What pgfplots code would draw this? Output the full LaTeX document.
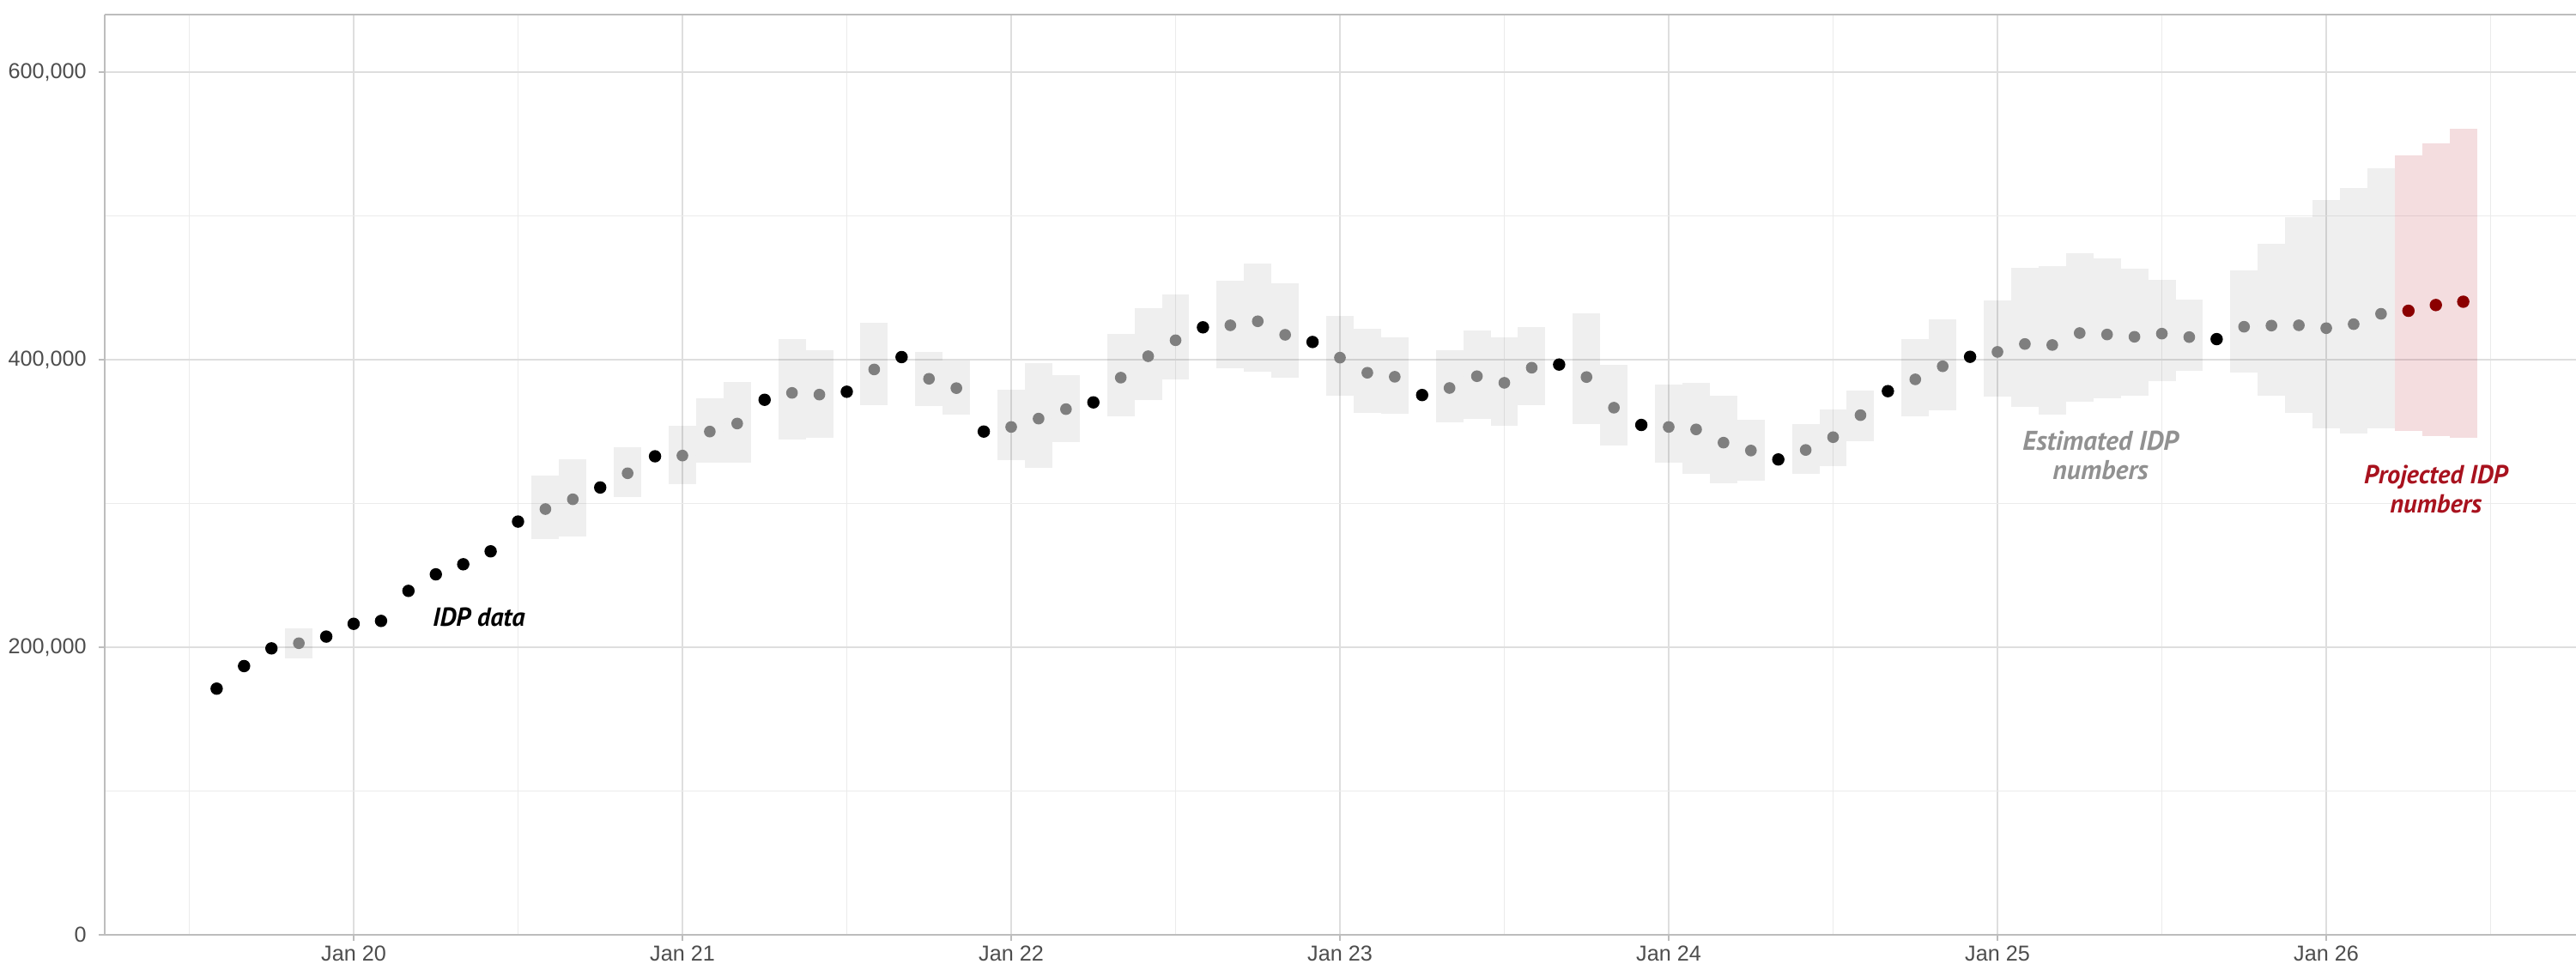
\documentclass[border=0pt]{standalone}
\usepackage{pgfplots}
\pgfplotsset{compat=1.18}
\usepackage{pgfplotstable}
\usepackage{fontspec}
\setmainfont{Liberation Sans}
\newfontfamily\annotfont{PT Sans}
\definecolor{gridmaj}{HTML}{DEDEDE}
\definecolor{gridmin}{HTML}{EBEBEB}
\definecolor{axgray}{HTML}{BDBDBD}
\definecolor{ticktext}{HTML}{4D4D4D}
\definecolor{ptgray}{HTML}{7F7F7F}
\definecolor{ptred}{HTML}{8B0000}
\definecolor{txtred}{HTML}{A8121E}
\definecolor{txtgray}{HTML}{919191}
\definecolor{bandred}{HTML}{B2182B}

% month index: Jan 2020 = 0 ; values in thousands
\pgfplotstableread{
m y
-5 171.2
-4 186.9
-3 199.2
-1 207.4
0 216.3
1 218.3
2 239.2
3 250.7
4 257.7
5 266.7
6 287.4
9 311.1
11 332.8
15 372.1
18 377.7
20 401.8
23 350.0
27 370.3
31 422.5
35 412.3
39 375.4
44 396.6
47 354.6
52 330.6
56 378.1
59 402.0
68 414.3
}\observed

\pgfplotstableread{
m y lo hi
-2 202.8 192.4 213.1
7 296.1 275.0 319.6
8 302.9 277.2 331.0
10 321.0 304.7 339.1
12 333.3 313.2 354.0
13 350.0 328.4 373.3
14 355.6 328.4 384.5
16 376.9 344.3 414.1
17 375.7 345.5 406.8
19 393.2 368.2 425.7
21 386.7 368.0 405.4
22 380.2 361.8 399.4
24 353.2 330.3 379.1
25 359.0 325.0 397.8
26 365.6 342.7 389.3
28 387.5 360.6 418.1
29 402.4 372.1 436.0
30 413.5 386.1 445.4
32 423.9 393.8 455.1
33 426.7 391.9 466.9
34 417.3 387.3 453.1
36 401.4 375.1 430.4
37 390.9 363.0 421.4
38 388.1 362.6 415.3
40 380.3 356.4 406.8
41 388.5 358.8 420.5
42 383.9 354.0 415.3
43 394.4 368.6 422.7
45 387.9 355.4 432.0
46 366.6 340.1 396.2
48 353.2 328.5 382.7
49 351.5 320.6 383.9
50 342.3 314.2 374.9
51 336.8 315.6 358.0
53 337.2 320.6 355.2
54 346.1 326.2 365.6
55 361.4 343.5 378.5
57 386.3 360.6 414.5
58 395.4 365.0 428.1
60 405.4 374.5 441.0
61 410.9 367.0 463.9
62 410.2 362.0 465.1
63 418.5 371.0 473.9
64 417.5 373.2 470.4
65 415.9 374.9 463.1
66 418.1 385.3 455.5
67 415.7 392.2 441.8
69 422.9 391.2 462.1
70 423.7 374.7 480.8
71 423.9 363.0 499.3
72 421.9 352.4 511.0
73 424.7 348.7 519.4
74 431.9 352.0 533.3
}\estimated

\pgfplotstableread{
m y lo hi
75 434.0 350.6 541.9
76 438.0 346.6 550.4
77 440.3 345.5 560.6
}\projected

\begin{document}
\begin{tikzpicture}
\begin{axis}[
  at={(0,0)}, anchor=south west,
  scale only axis, width=719.75pt, height=268pt,
  xmin=-9.086, xmax=81.117, ymin=0, ymax=640,
  axis x line*=box, axis y line*=left,
  axis line style={draw=axgray, line width=0.5pt, -},
  xtick={0,12,24,36,48,60,72},
  xticklabels={Jan 20,Jan 21,Jan 22,Jan 23,Jan 24,Jan 25,Jan 26},
  minor xtick={-6,6,18,30,42,54,66,78},
  ytick={0,200,400,600},
  yticklabels={0,{200,000},{400,000},{600,000}},
  minor ytick={100,300,500},
  xtick pos=left, ytick pos=left,
  tick align=outside,
  major tick length=1.8pt, minor tick length=0pt,
  tick style={draw=axgray, line width=0.5pt},
  grid=both,
  major grid style={draw=gridmaj, line width=0.5pt},
  minor grid style={draw=gridmin, line width=0.45pt},
  tick label style={font=\fontsize{6.3}{7.5}\selectfont, text=ticktext},
  xticklabel style={yshift=2pt},
  clip=false,
]
% uncertainty bands (one month wide)
\addplot[forget plot, draw=none, mark=none,
  error bars/.cd, y dir=both, y explicit, error mark=none,
  error bar style={line width=7.979pt, draw=black, draw opacity=0.063}]
  table[x=m, y=y, y error plus expr=\thisrow{hi}-\thisrow{y}, y error minus expr=\thisrow{y}-\thisrow{lo}] {\estimated};
\addplot[forget plot, draw=none, mark=none,
  error bars/.cd, y dir=both, y explicit, error mark=none,
  error bar style={line width=7.979pt, draw=bandred, draw opacity=0.15}]
  table[x=m, y=y, y error plus expr=\thisrow{hi}-\thisrow{y}, y error minus expr=\thisrow{y}-\thisrow{lo}] {\projected};
% points
\addplot[only marks, mark=*, mark size=1.5pt, color=ptgray, mark options={solid, fill=ptgray, draw=ptgray}]
  table[x=m, y=y] {\estimated};
\addplot[only marks, mark=*, mark size=1.6pt, color=black, mark options={solid, fill=black, draw=black}]
  table[x=m, y=y] {\observed};
\addplot[only marks, mark=*, mark size=1.6pt, color=ptred, mark options={solid, fill=ptred, draw=ptred}]
  table[x=m, y=y] {\projected};
% annotations
\node[font={\fontsize{7.6}{8.5}\selectfont\annotfont\bfseries\itshape}, text=black]
  at (axis cs:4.57,220.9) {IDP data};
\node[font={\fontsize{7.9}{8.5}\selectfont\annotfont\bfseries\itshape}, text=txtgray, align=center]
  at (axis cs:63.76,333.5) {Estimated IDP\\numbers};
\node[font={\fontsize{7.6}{8.5}\selectfont\annotfont\bfseries\itshape}, text=txtred, align=center]
  at (axis cs:76.0,310.0) {Projected IDP\\numbers};
\end{axis}
\pgfresetboundingbox
\path (-30.5pt,-8.5pt) rectangle (719.75pt,272.25pt);
\end{tikzpicture}
\end{document}
